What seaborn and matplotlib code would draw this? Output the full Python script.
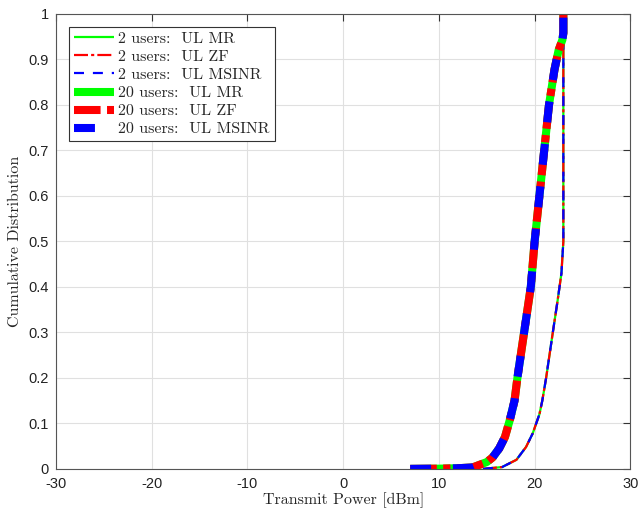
import pandas as pd
import matplotlib.pyplot as plt
import seaborn as sns

# CDF points (same curve for MR, ZF and MSINR)
power_2 = [14.6, 16.6, 18.1, 19.1, 19.8, 20.5, 20.8, 21.2, 21.9, 22.4, 22.8, 23.0, 23.0]
cdf_2 = [0.0, 0.004, 0.02, 0.048, 0.078, 0.12, 0.15, 0.2, 0.3, 0.37, 0.43, 0.5, 1.0]

power_20 = [7.0, 10.0, 12.0, 13.5, 15.0, 15.6, 16.3, 16.9, 17.4, 17.9, 18.2, 18.9, 19.6,
            20.0, 20.5, 21.0, 21.5, 22.07, 22.5, 22.9, 23.0, 23.0]
cdf_20 = [0.0, 0.0005, 0.0015, 0.003, 0.015, 0.025, 0.045, 0.07, 0.107, 0.15, 0.2, 0.3, 0.4,
          0.5, 0.6, 0.7, 0.8, 0.877, 0.92, 0.943, 0.958, 1.0]

schemes = ['MR', 'ZF', 'MSINR']
colors = {'MR': '#00ff00', 'ZF': '#ff0000', 'MSINR': '#0000ff'}
# dash patterns (in units of line width) for thin and thick lines
styles_thin = {'MR': '-', 'ZF': (0, (6.3, 1.4, 1.4, 1.4)), 'MSINR': (0, (4.5, 4.0))}
styles_thick = {'MR': '-', 'ZF': (0, (3.3, 0.8, 0.9, 0.8)), 'MSINR': (0, (2.6, 2.7))}

sns.set_style("whitegrid")
plt.rcParams['axes.unicode_minus'] = False
plt.rcParams['font.family'] = ['Liberation Sans', 'DejaVu Sans']
plt.rcParams['lines.solid_capstyle'] = 'butt'
plt.rcParams['lines.dash_capstyle'] = 'butt'

fig = plt.figure(figsize=(6.41, 5.13), dpi=100)
ax = fig.add_axes([0.0874, 0.086, 0.896, 0.887])

df2 = pd.DataFrame({'power': power_2, 'cdf': cdf_2})
df20 = pd.DataFrame({'power': power_20, 'cdf': cdf_20})

for users, df, lw, styles in [(2, df2, 1.6, styles_thin), (20, df20, 5.8, styles_thick)]:
    for s in schemes:
        sns.lineplot(data=df, x='power', y='cdf', ax=ax, estimator=None, sort=False,
                     color=colors[s], linestyle=styles[s], linewidth=lw,
                     solid_capstyle='butt', dash_capstyle='butt',
                     label=f'{users} users:  UL {s}')

ax.set_xlim(-30, 30)
ax.set_ylim(0, 1)
ax.set_xticks(range(-30, 31, 10))
ax.set_yticks([i / 10 for i in range(11)])
ax.set_yticklabels(['0', '0.1', '0.2', '0.3', '0.4', '0.5', '0.6', '0.7', '0.8', '0.9', '1'])
ax.tick_params(direction='in', length=5, top=True, right=True, labelsize=10.5,
               color='#333333', labelcolor='#222222')
ax.tick_params(axis='x', pad=6)
ax.tick_params(axis='y', pad=5)
ax.grid(True, color='#e0e0e0', linewidth=0.8)
for sp in ax.spines.values():
    sp.set_color('#555555')
    sp.set_linewidth(0.8)

ax.set_xlabel('Transmit Power [dBm]', family='cmr10', fontsize=11.5, labelpad=1)
ax.set_ylabel('Cumulative Distribution', family='cmr10', fontsize=11.5, labelpad=5)

leg = ax.legend(loc='upper left', prop={'family': 'cmr10', 'size': 11.5},
                fancybox=False, framealpha=1, edgecolor='#333333',
                handlelength=2.5, handletextpad=0.3, borderpad=0.3,
                labelspacing=0.25, borderaxespad=0.8)
leg.get_frame().set_linewidth(0.8)

fig.savefig('out.png', dpi=100)
